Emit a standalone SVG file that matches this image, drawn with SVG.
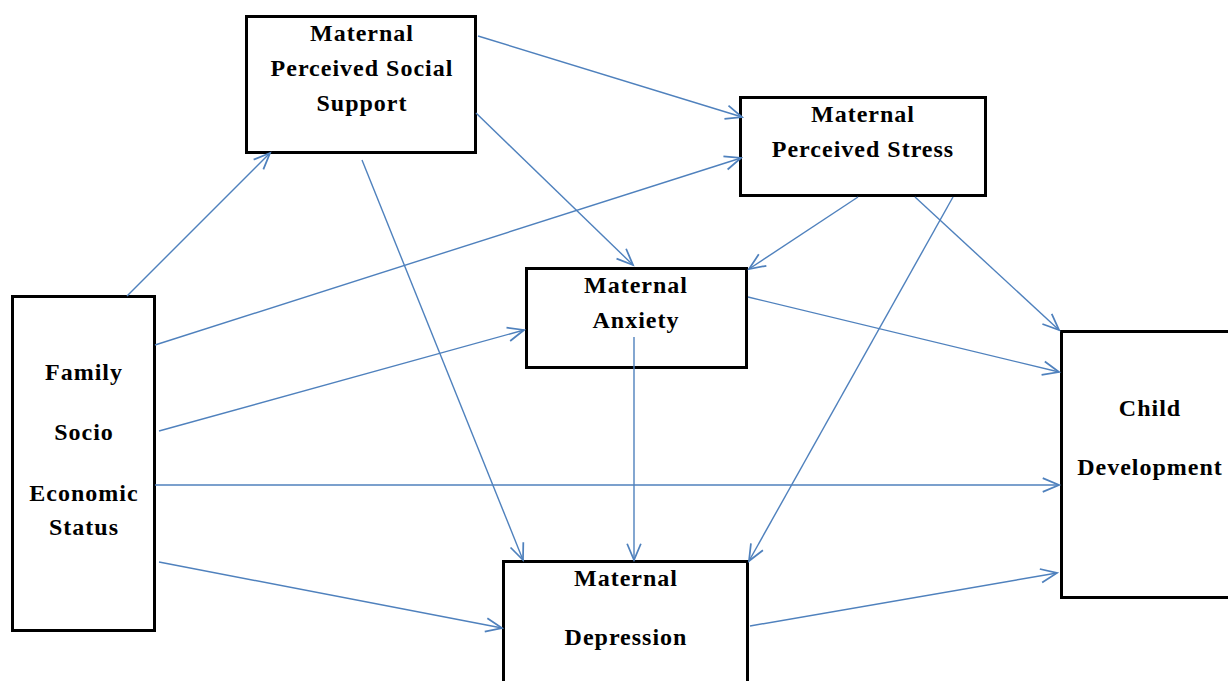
<svg xmlns="http://www.w3.org/2000/svg" width="1228" height="681" viewBox="0 0 1228 681">
<style>
.box{fill:#fff;stroke:#000;stroke-width:3}
.lbl{font-family:"Liberation Serif","Times New Roman",serif;font-weight:bold;font-size:24px;letter-spacing:1px;fill:#000;text-anchor:middle}
.edge{stroke:#4F81BD;stroke-width:1.4;fill:none;marker-end:url(#arr)}
</style>
<defs>
<marker id="arr" markerUnits="userSpaceOnUse" markerWidth="20" markerHeight="20" viewBox="-14 -8 16 16" refX="0" refY="0" orient="auto">
<path d="M-13,-5.5 L0,0 L-13,5.5" fill="none" stroke="#4F81BD" stroke-width="1.4"/>
</marker>
</defs>
<rect width="1228" height="681" fill="#fff"/>
<g id="nodes">
<g id="mpss"><rect class="box" x="246.5" y="16.5" width="229" height="136"/>
<text class="lbl" x="362" y="41">Maternal</text>
<text class="lbl" x="362" y="76">Perceived Social</text>
<text class="lbl" x="362" y="111">Support</text></g>
<g id="mps"><rect class="box" x="740.5" y="97.5" width="245" height="98"/>
<text class="lbl" x="863" y="122">Maternal</text>
<text class="lbl" x="863" y="157">Perceived Stress</text></g>
<g id="ma"><rect class="box" x="526.5" y="268.5" width="220" height="99"/>
<text class="lbl" x="636" y="293">Maternal</text>
<text class="lbl" x="636" y="328">Anxiety</text></g>
<g id="fses"><rect class="box" x="12.5" y="296.5" width="142" height="334"/>
<text class="lbl" x="84" y="380">Family</text>
<text class="lbl" x="84" y="440">Socio</text>
<text class="lbl" x="84" y="501">Economic</text>
<text class="lbl" x="84" y="535">Status</text></g>
<g id="md"><rect class="box" x="503.5" y="561.5" width="244" height="130"/>
<text class="lbl" x="626" y="586">Maternal</text>
<text class="lbl" x="626" y="645">Depression</text></g>
<g id="cd"><rect class="box" x="1061.5" y="331.5" width="180" height="266"/>
<text class="lbl" x="1150" y="416">Child</text>
<text class="lbl" x="1150" y="475">Development</text></g>
</g>
<g id="connectors">
<line class="edge" x1="127" y1="296" x2="270" y2="153"/>
<line class="edge" x1="155" y1="345" x2="741" y2="158"/>
<line class="edge" x1="159" y1="431" x2="524" y2="330"/>
<line class="edge" x1="155" y1="485" x2="1059" y2="485"/>
<line class="edge" x1="159" y1="562" x2="502" y2="628"/>
<line class="edge" x1="478" y1="36" x2="742" y2="117"/>
<line class="edge" x1="476" y1="113" x2="633" y2="265"/>
<line class="edge" x1="362" y1="160" x2="523" y2="560"/>
<line class="edge" x1="858" y1="197" x2="749" y2="269"/>
<line class="edge" x1="915" y1="197" x2="1059" y2="330"/>
<line class="edge" x1="953" y1="197" x2="749" y2="561"/>
<line class="edge" x1="748" y1="297" x2="1059" y2="372"/>
<line class="edge" x1="634" y1="337" x2="634" y2="560"/>
<line class="edge" x1="750" y1="626" x2="1057" y2="573"/>
</g>
</svg>
